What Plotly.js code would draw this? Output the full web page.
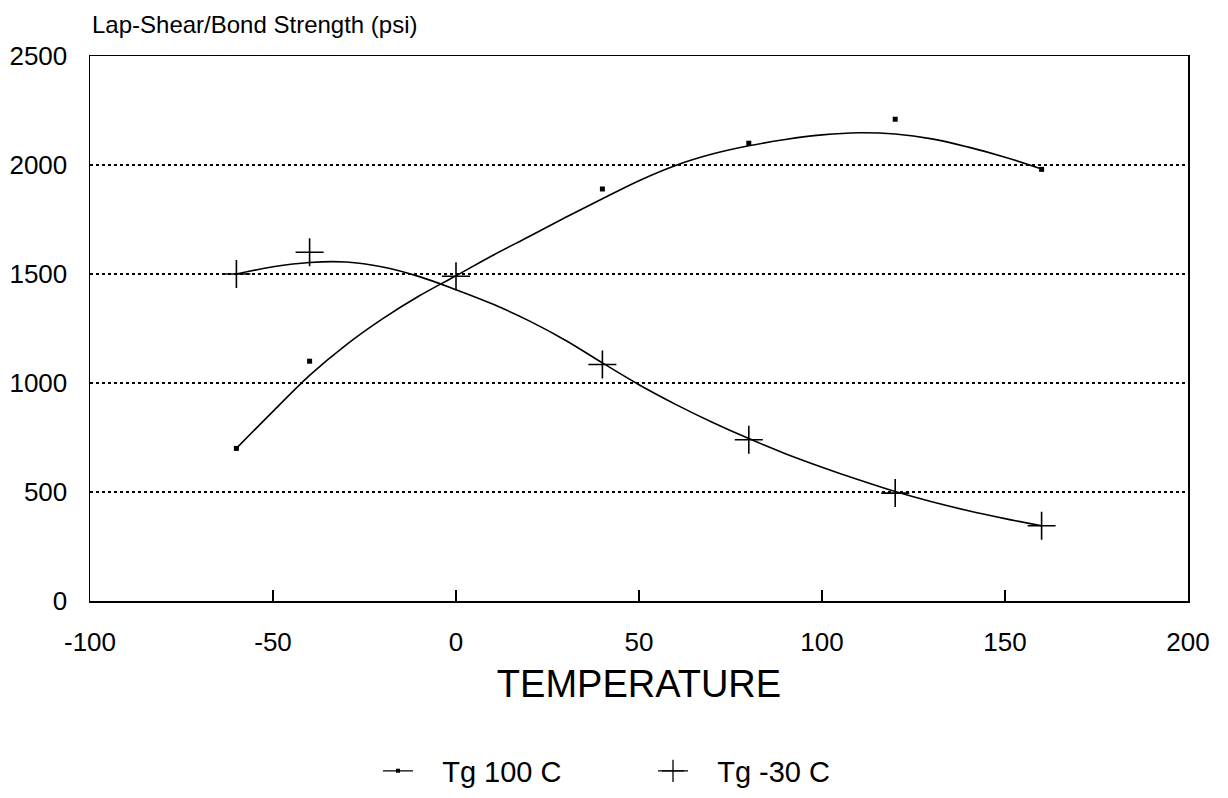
<!DOCTYPE html>
<html>
<head>
<meta charset="utf-8">
<script src="https://cdn.plot.ly/plotly-3.0.1.min.js"></script>
<style>html,body{margin:0;padding:0;background:#fff;}#chart{width:1228px;height:798px;}</style>
</head>
<body>
<div id="chart"></div>
<script>
// Measured points
const tg100X = [-60, -40, 40, 80, 120, 160];
const tg100Y = [700, 1100, 1890, 2100, 2210, 1980];
const tgm30X = [-60, -40, 0, 40, 80, 120, 160];
const tgm30Y = [1500, 1600, 1490, 1085, 740, 495, 345];

// Fitted curves
const curveX = [-60, -50, -40, -30, -20, -10, 0, 10, 20, 30, 40, 50, 60, 70, 80, 90, 100, 110, 120, 130, 140, 150, 160];
const tg100Curve = [700, 870, 1035, 1175, 1295, 1400, 1492, 1585, 1672, 1760, 1845, 1928, 1998, 2050, 2088, 2117, 2138, 2148, 2142, 2120, 2082, 2036, 1982];
const tgm30Curve = [1500, 1533, 1553, 1555, 1532, 1488, 1428, 1362, 1285, 1195, 1092, 992, 902, 820, 745, 676, 614, 556, 502, 455, 414, 378, 345];

const xTicks = [-100, -50, 0, 50, 100, 150, 200];
const yTicks = [0, 500, 1000, 1500, 2000, 2500];
const seriesNames = ['Tg 100 C', 'Tg -30 C'];

const FONT = 'Liberation Sans, Arial, Helvetica, sans-serif';
const NB = '\u00a0\u00a0\u00a0';

const traces = [
  {x: curveX, y: tg100Curve, mode: 'lines', line: {color: '#000', width: 1.6, shape: 'spline'}, showlegend: false, hoverinfo: 'skip'},
  {x: curveX, y: tgm30Curve, mode: 'lines', line: {color: '#000', width: 1.6, shape: 'spline'}, showlegend: false, hoverinfo: 'skip'},
  {x: tg100X, y: tg100Y, mode: 'markers', marker: {symbol: 'square', size: 5, color: '#000'}, showlegend: false},
  {x: tgm30X, y: tgm30Y, mode: 'markers', marker: {symbol: 'cross-thin-open', size: 20, color: '#000', line: {color: '#000', width: 1.6}}, showlegend: false},
  {x: [null], y: [null], name: NB + seriesNames[0], mode: 'lines+markers', line: {color: '#000', width: 1.3}, marker: {symbol: 'square', size: 4, color: '#000'}},
  {x: [null], y: [null], name: NB + seriesNames[1], mode: 'lines+markers', line: {color: '#000', width: 1.3}, marker: {symbol: 'cross-thin-open', size: 18, color: '#000', line: {color: '#000', width: 1.3}}}
];

const layout = {
  width: 1228, height: 798,
  margin: {l: 90, r: 40, t: 56, b: 197},
  paper_bgcolor: '#fff', plot_bgcolor: '#fff',
  font: {family: FONT, size: 24, color: '#000'},
  xaxis: {
    range: [-100, 200], tickvals: xTicks, ticktext: xTicks.map(String),
    showgrid: false, zeroline: false, showline: true, mirror: true, linecolor: '#000', linewidth: 1.5,
    ticks: 'inside', ticklen: 11, tickwidth: 1.5, tickcolor: '#000',
    ticklabelstandoff: 17,
    tickfont: {family: FONT, size: 26, color: '#000'},
    title: {text: 'TEMPERATURE', font: {family: FONT, size: 38, color: '#000'}, standoff: 14}
  },
  yaxis: {
    range: [0, 2500], tickvals: yTicks, ticktext: yTicks.map(String),
    showgrid: true, gridcolor: '#000', gridwidth: 1.6, griddash: 'dot',
    zeroline: false, showline: true, mirror: true, linecolor: '#000', linewidth: 1.5,
    ticks: '', ticklabelstandoff: 16,
    tickfont: {family: FONT, size: 26, color: '#000'}
  },
  showlegend: true,
  legend: {
    orientation: 'h', xref: 'container', yref: 'container',
    x: 378 / 1228, y: 1 - 771 / 798, xanchor: 'left', yanchor: 'middle',
    font: {family: FONT, size: 29, color: '#000'},
    entrywidth: 230, tracegroupgap: 0, bgcolor: 'rgba(0,0,0,0)'
  },
  annotations: [
    {text: 'Lap-Shear/Bond Strength (psi)', xref: 'paper', yref: 'paper', x: 0, y: 1, xanchor: 'left', yanchor: 'bottom', yshift: 16, xshift: 0, showarrow: false, font: {family: FONT, size: 24, color: '#000'}}
  ]
};

Plotly.newPlot('chart', traces, layout, {staticPlot: true, displayModeBar: false});
</script>
</body>
</html>
